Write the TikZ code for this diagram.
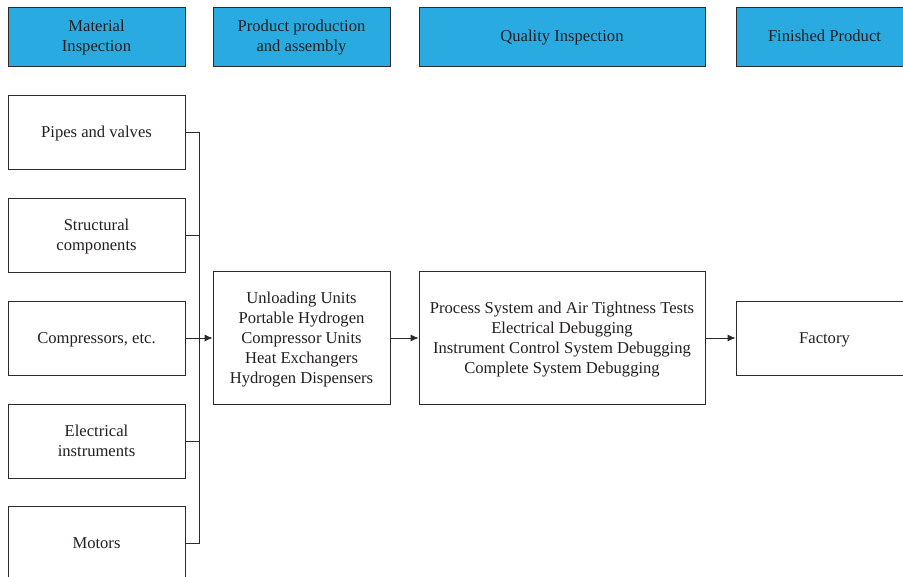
\documentclass[tikz,border=0pt]{standalone}
\usepackage{fontspec}
\setmainfont{Liberation Serif}
\usetikzlibrary{arrows.meta}
\definecolor{hdr}{HTML}{29ABE2}
\definecolor{ink}{HTML}{231F20}
\definecolor{edge}{HTML}{2B2B2B}
\newcommand\tpstrut{\rule[-4.5pt]{0pt}{20pt}}
\begin{document}
\begin{tikzpicture}[x=1pt,y=-1pt,
  base/.style={draw=edge,line width=0.8pt,align=center,text=ink,inner sep=0pt,
    font=\fontsize{16.6}{20}\selectfont},
  hbox/.style={base,fill=hdr,minimum height=59pt},
  wbox/.style={base,fill=white},
  conn/.style={draw=edge,line width=0.8pt},
  arr/.style={conn,-{Latex[length=8pt,width=7pt]}}]
\useasboundingbox (0,0) rectangle (903,577);
\clip (0,0) rectangle (903,577);
% headers
\node[hbox,minimum width=177pt] (h1) at (96.5,36.5) {\tpstrut Material\\\tpstrut Inspection};
\node[hbox,minimum width=177pt] (h2) at (301.5,36.5) {\tpstrut Product production\\\tpstrut and assembly};
\node[hbox,minimum width=286pt] (h3) at (562,36.5) {\tpstrut Quality Inspection};
\node[hbox,minimum width=177pt] (h4) at (824.5,36.5) {\tpstrut Finished Product};
% left column
\node[wbox,minimum width=177pt,minimum height=74pt] (m1) at (96.5,132) {\tpstrut Pipes and valves};
\node[wbox,minimum width=177pt,minimum height=74pt] (m2) at (96.5,235) {\tpstrut Structural\\\tpstrut components};
\node[wbox,minimum width=177pt,minimum height=74pt] (m3) at (96.5,338) {\tpstrut Compressors, etc.};
\node[wbox,minimum width=177pt,minimum height=74pt] (m4) at (96.5,441) {\tpstrut Electrical\\\tpstrut instruments};
\node[wbox,minimum width=177pt,minimum height=74pt] (m5) at (96.5,543) {\tpstrut Motors};
% middle
\node[wbox,minimum width=177pt,minimum height=133pt] (p) at (301.5,338)
  {\tpstrut Unloading Units\\\tpstrut Portable Hydrogen\\\tpstrut Compressor Units\\\tpstrut Heat Exchangers\\\tpstrut Hydrogen Dispensers};
\node[wbox,minimum width=286pt,minimum height=133pt] (q) at (562,338)
  {\tpstrut Process System and Air Tightness Tests\\\tpstrut Electrical Debugging\\\tpstrut Instrument Control System Debugging\\\tpstrut Complete System Debugging};
\node[wbox,minimum width=177pt,minimum height=74pt] (f) at (824.5,338) {\tpstrut Factory};
% bus
\coordinate (b1) at (199,132);
\coordinate (b2) at (199,235);
\coordinate (b3) at (199,338);
\coordinate (b4) at (199,441);
\coordinate (b5) at (199,543);
\draw[conn] (m1.east) -- (b1) -- (b5) -- (m5.east);
\draw[conn] (m2.east) -- (b2);
\draw[conn] (m4.east) -- (b4);
\draw[conn] (m3.east) -- (b3);
\draw[arr] (b3) -- (p.west);
\draw[arr] (p.east) -- (q.west);
\draw[arr] (q.east) -- (f.west);
\end{tikzpicture}
\end{document}
